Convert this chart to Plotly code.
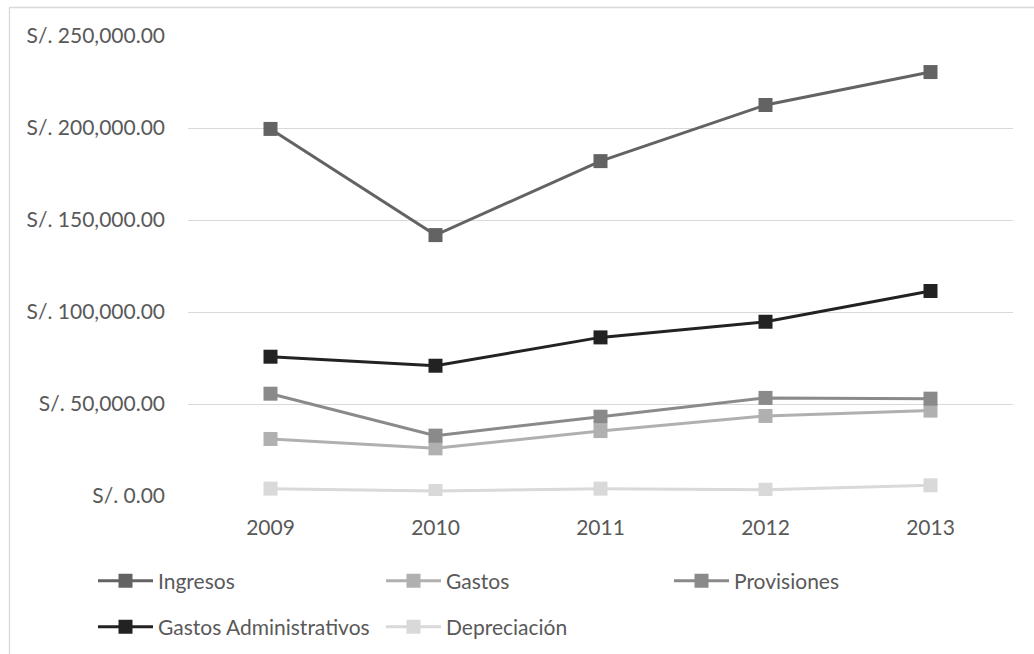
import plotly.graph_objects as go

# Annual figures (soles)
years = ["2009", "2010", "2011", "2012", "2013"]
ingresos = [199500, 141800, 182000, 212500, 230400]
gastos = [31000, 25900, 35300, 43500, 46400]
provisiones = [55600, 32800, 43100, 53300, 52900]
gastos_admin = [75700, 70800, 86200, 94700, 111400]
depreciacion = [4000, 2700, 4000, 3400, 5800]

tick_vals = [0, 50000, 100000, 150000, 200000, 250000]
tick_text = ["S/. 0.00", "S/. 50,000.00", "S/. 100,000.00",
             "S/. 150,000.00", "S/. 200,000.00", "S/. 250,000.00"]

# name, values, colour, legend row
series = [
    ("Ingresos", ingresos, "#636363", "legend"),
    ("Gastos", gastos, "#b0b0b0", "legend"),
    ("Provisiones", provisiones, "#8a8a8a", "legend"),
    ("Gastos Administrativos", gastos_admin, "#222222", "legend2"),
    ("Depreciación", depreciacion, "#d9d9d9", "legend2"),
]

FONT = "Lato"
FSIZE = 21
TEXT_COLOR = "#595959"

fig = go.Figure()
for name, vals, color, leg in series:
    fig.add_trace(go.Scatter(
        x=years, y=vals, name=name, mode="lines+markers",
        line=dict(color=color, width=3),
        marker=dict(symbol="square", size=14, color=color),
        legend=leg,
    ))

W, H = 1034, 654
ml, mr, mt, mb = 188, 21, 36, 158
pw = W - ml - mr
ph = H - mt - mb

def px_x(px):
    return (px - ml) / pw

def px_y(py):
    return (H - mb - py) / ph

legend_style = dict(
    orientation="h", x=px_x(93), xanchor="left", yanchor="middle",
    entrywidth=218, entrywidthmode="pixels",
    itemwidth=55, tracegroupgap=0,
    font=dict(family=FONT, size=FSIZE, color=TEXT_COLOR),
    bgcolor="rgba(0,0,0,0)",
)

fig.update_layout(
    width=W, height=H,
    margin=dict(l=ml, r=mr, t=mt, b=mb, pad=0, autoexpand=False),
    paper_bgcolor="white", plot_bgcolor="white",
    font=dict(family=FONT, size=FSIZE, color=TEXT_COLOR),
    xaxis=dict(
        type="category", range=[-0.5, 4.5], showgrid=False,
        showline=False, zeroline=False, ticks="",
        tickfont=dict(family=FONT, size=FSIZE, color=TEXT_COLOR),
        ticklabelstandoff=17,
    ),
    yaxis=dict(
        range=[0, 250000], tickvals=tick_vals, ticktext=tick_text,
        showgrid=True, gridcolor="#d9d9d9", gridwidth=1.3,
        zeroline=False, showline=False, ticks="",
        tickfont=dict(family=FONT, size=FSIZE, color=TEXT_COLOR),
        ticklabelstandoff=22,
    ),
    legend=dict(legend_style, y=px_y(581)),
    legend2=dict(legend_style, y=px_y(627)),
    showlegend=True,
    shapes=[
        dict(type="rect", xref="paper", yref="paper",
             x0=px_x(9.5), x1=px_x(1100), y0=px_y(700), y1=px_y(7.5),
             line=dict(color="#d9d9d9", width=1.3), fillcolor="rgba(0,0,0,0)",
             layer="below"),
    ],
)

fig.write_html("out.html")
